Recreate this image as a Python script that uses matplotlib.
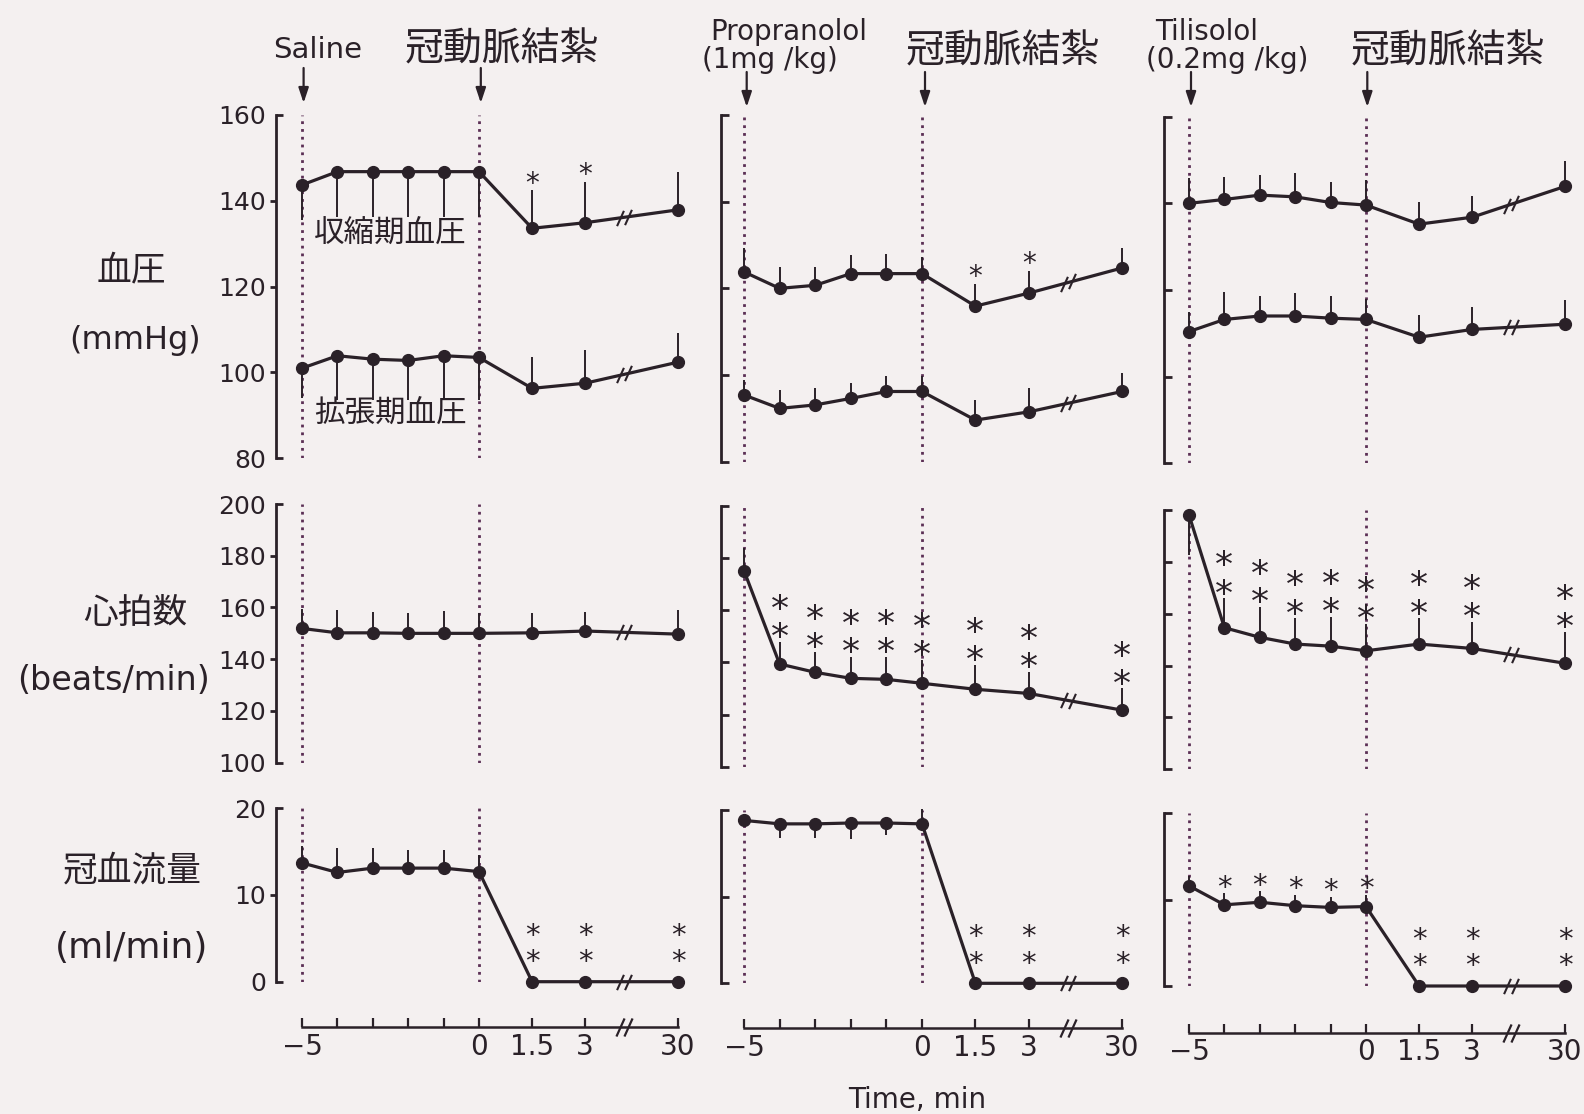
import numpy as np
import matplotlib.pyplot as plt
from matplotlib.path import Path

plt.rcParams['font.family'] = ['DejaVu Sans', 'Noto Sans CJK JP']

W, H = 1584, 1114
INK = '#2a2128'
DOT = '#5b2f55'
BG = '#f4f0f0'
JP = ['Noto Sans CJK JP', 'DejaVu Sans']

# time points (min); 30 min sits after an axis break
times = [-5, -4, -3, -2, -1, 0, 1.5, 3, 30]
tick_text = ['−5', '', '', '', '', '0', '1.5', '3', '30']
POS_30 = 5.62
pos = np.array([t if t < 30 else POS_30 for t in times])

# --- blood pressure (mmHg) ---
sys_saline = [143.7, 146.8, 146.8, 146.8, 146.8, 146.8, 133.6, 134.9, 137.9]
sys_saline_sd = [8.2, 10.5, 10.5, 10.5, 10.5, 10.5, 8.9, 9.6, 8.9]
dia_saline = [101.0, 103.9, 103.1, 102.8, 103.9, 103.5, 96.3, 97.5, 102.4]
dia_saline_sd = [7.0, 10.3, 9.5, 9.2, 10.3, 10.0, 7.4, 7.8, 6.8]
bp_saline_dir = [-1, -1, -1, -1, -1, -1, 1, 1, 1]
sys_saline_sig = ['', '', '', '', '', '', '*', '*', '']

sys_prop = [123.8, 120.0, 120.7, 123.4, 123.4, 123.4, 115.9, 118.9, 124.7]
sys_prop_sd = [5.4, 5.0, 4.2, 4.2, 4.6, 3.8, 5.2, 5.2, 4.5]
dia_prop = [95.4, 92.3, 93.1, 94.6, 96.2, 96.2, 89.6, 91.5, 96.2]
dia_prop_sd = [3.5, 4.2, 3.8, 3.5, 3.5, 3.5, 4.6, 5.4, 4.2]
sys_prop_sig = ['', '', '', '', '', '', '*', '*', '']

sys_tili = [140.0, 140.9, 141.9, 141.5, 140.2, 139.6, 135.2, 136.8, 143.9]
sys_tili_sd = [5.8, 5.2, 4.6, 5.4, 4.8, 5.8, 5.2, 4.8, 5.8]
dia_tili = [110.4, 113.2, 114.0, 114.0, 113.5, 113.2, 109.1, 110.9, 112.1]
dia_tili_sd = [4.6, 6.4, 4.5, 5.2, 5.0, 4.8, 5.2, 5.2, 5.5]

# --- heart rate (beats/min) ---
hr_saline = [151.9, 150.2, 150.2, 150.0, 150.0, 150.0, 150.2, 150.9, 149.7]
hr_saline_sd = [7.7, 8.8, 8.1, 8.0, 8.8, 7.7, 7.7, 7.5, 9.3]
hr_prop = [175.2, 139.4, 136.2, 133.9, 133.5, 132.0, 129.7, 128.1, 121.7]
hr_prop_sd = [8.6, 8.6, 7.9, 8.3, 8.7, 9.0, 9.3, 8.3, 8.3]
hr_prop_sig = ['', '**', '**', '**', '**', '**', '**', '**', '**']
hr_tili = [198.1, 154.6, 150.9, 148.3, 147.5, 145.7, 148.3, 146.6, 140.9]
hr_tili_sd = [15.4, 11.3, 11.8, 9.9, 11.3, 10.5, 9.9, 10.3, 12.2]
hr_tili_dir = [-1, 1, 1, 1, 1, 1, 1, 1, 1]
hr_tili_sig = ['', '**', '**', '**', '**', '**', '**', '**', '**']

# --- coronary blood flow (ml/min) ---
cf_saline = [13.7, 12.6, 13.1, 13.1, 13.1, 12.7, 0, 0, 0]
cf_saline_sd = [2.0, 2.8, 2.3, 2.1, 2.1, 1.9, 0, 0, 0]
cf_prop = [18.8, 18.4, 18.4, 18.5, 18.5, 18.4, 0, 0, 0]
cf_prop_sd = [0, 1.65, 1.65, 1.85, 1.35, 1.7, 0, 0, 0]
cf_prop_dir = [1, -1, -1, -1, -1, 1, 1, 1, 1]
cf_tili = [11.6, 9.4, 9.7, 9.3, 9.1, 9.2, 0, 0, 0]
cf_tili_sd = [1.1, 1.35, 1.27, 1.27, 1.24, 1.35, 0, 0, 0]
cf_sig = ['', '', '', '', '', '', '**', '**', '**']
cf_tili_sig = ['', '*', '*', '*', '*', '*', '**', '**', '**']

UP = [1] * 9
NONE = [''] * 9

# layout in reference pixels
col_x = [dict(spine=276, m5=302, zero=479),
         dict(spine=721, m5=744, zero=922),
         dict(spine=1164, m5=1189, zero=1366)]
bp_y = [(458.3, 115), (461.7, 115), (463.3, 116.7)]
hr_y = [(762.7, 504), (766.7, 506), (769.3, 510)]
cf_y = [(981.7, 808.3), (983.3, 810), (986, 813.3)]
time_y = [1027.3, 1028.3, 1032.7]

SLASH = Path([(-0.45, -1), (0.45, 1)], [Path.MOVETO, Path.LINETO])

fig = plt.figure(figsize=(W / 100, H / 100), dpi=100, facecolor=BG)


def make_axes(col, ybot, ytop, lo, hi, ticks, labelled):
    c = col_x[col]
    per = (c['zero'] - c['m5']) / 5
    right = c['zero'] + POS_30 * per + 14
    ax = fig.add_axes([c['spine'] / W, 1 - ybot / H,
                       (right - c['spine']) / W, (ybot - ytop) / H])
    ax.set_xlim(-5 - (c['m5'] - c['spine']) / per, POS_30 + 14 / per)
    ax.set_ylim(lo, hi)
    ax.patch.set_visible(False)
    for s in ['top', 'right', 'bottom']:
        ax.spines[s].set_visible(False)
    ax.spines['left'].set_bounds(lo, hi)
    ax.spines['left'].set_linewidth(2.0)
    ax.spines['left'].set_color(INK)
    ax.set_xticks([])
    if labelled:
        mid = ticks[1:-1]
        ends = [ticks[0], ticks[-1]]
        ax.set_yticks(mid)
        ax.set_yticklabels([str(t) for t in mid])
        ax.set_yticks(ends, minor=True)
        ax.set_yticklabels([str(t) for t in ends], minor=True)
        ax.tick_params(axis='y', which='major', direction='out', length=4,
                       width=2, pad=3, labelsize=18, colors=INK)
        ax.tick_params(axis='y', which='minor', direction='in', length=5,
                       width=2, pad=7, labelsize=18, colors=INK)
    else:
        ax.set_yticks(ticks)
        ax.set_yticklabels([])
        ax.tick_params(axis='y', direction='in', length=5.5, width=2, colors=INK)
    ax.vlines([-5, 0], lo, hi, colors=DOT, linestyles=(0, (1, 1.8)), lw=2.0, zorder=1)
    return ax


def draw_series(ax, vals, sd, dirs, sig, star_size=20, star_gap=20):
    v = np.array(vals)
    for p, vi, si, di in zip(pos, v, sd, dirs):
        if si > 0:
            ax.vlines(p, vi, vi + di * si, color=INK, lw=1.4, clip_on=False, zorder=3)
    ax.plot(pos, v, '-', color=INK, lw=2.3, clip_on=False, zorder=4)
    ax.plot(pos, v, 'o', ms=8.5, color=INK, clip_on=False, zorder=5)
    for bx in (3.98, 4.22):
        ax.plot([bx], [np.interp(bx, pos, v)], marker=SLASH, ms=11, mew=1.5,
                mfc='none', color=INK, clip_on=False, zorder=6)
    em = star_size * 100 / 72
    spacing = star_gap / (0.76 * em)
    for p, vi, si, di, mark in zip(pos, v, sd, dirs, sig):
        if not mark:
            continue
        if si > 0 and di > 0:
            top, off = vi + si, 14
        else:
            top, off = vi, 28
        # baseline anchor sits on the lowest line of the stack
        ax.annotate('\n'.join('*' * len(mark)), xy=(p, top),
                    xytext=(0, off - 0.56 * em),
                    textcoords='offset pixels', ha='center', va='baseline',
                    linespacing=spacing, fontsize=star_size, color=INK,
                    annotation_clip=False)


def time_axis(col):
    c = col_x[col]
    per = (c['zero'] - c['m5']) / 5
    right = c['zero'] + POS_30 * per + 14
    tax = fig.add_axes([c['spine'] / W, 1 - time_y[col] / H,
                        (right - c['spine']) / W, 0.001])
    tax.set_xlim(-5 - (c['m5'] - c['spine']) / per, POS_30 + 14 / per)
    tax.set_ylim(0, 1)
    tax.patch.set_visible(False)
    for s in ['top', 'right', 'left']:
        tax.spines[s].set_visible(False)
    tax.spines['bottom'].set_bounds(-5, POS_30)
    tax.spines['bottom'].set_linewidth(1.8)
    tax.spines['bottom'].set_color(INK)
    tax.set_yticks([])
    tax.set_xticks(pos)
    tax.set_xticklabels(tick_text)
    tax.tick_params(axis='x', direction='in', length=6.5, width=1.6, pad=4,
                    labelsize=20, colors=INK)
    for bx in (3.98, 4.2):
        tax.plot([bx], [0], marker=SLASH, ms=13, mew=1.6, mfc='none',
                 color=INK, clip_on=False, zorder=6)


bp_ticks = [80, 100, 120, 140, 160]
hr_ticks = [100, 120, 140, 160, 180, 200]
cf_ticks = [0, 10, 20]

# column 1: saline
ax = make_axes(0, *bp_y[0], 80, 160, bp_ticks, True)
draw_series(ax, sys_saline, sys_saline_sd, bp_saline_dir, sys_saline_sig)
draw_series(ax, dia_saline, dia_saline_sd, bp_saline_dir, NONE)
ax.text(-2.5, 132.5, '収縮期血圧', family=JP, fontsize=22, ha='center', va='center', color=INK)
ax.text(-2.5, 90.5, '拡張期血圧', family=JP, fontsize=22, ha='center', va='center', color=INK)
ax = make_axes(0, *hr_y[0], 100, 200, hr_ticks, True)
draw_series(ax, hr_saline, hr_saline_sd, UP, NONE)
ax = make_axes(0, *cf_y[0], 0, 20, cf_ticks, True)
draw_series(ax, cf_saline, cf_saline_sd, UP, cf_sig, 21, 20)
time_axis(0)

# column 2: propranolol
ax = make_axes(1, *bp_y[1], 80, 160, bp_ticks, False)
draw_series(ax, sys_prop, sys_prop_sd, UP, sys_prop_sig)
draw_series(ax, dia_prop, dia_prop_sd, UP, NONE)
ax = make_axes(1, *hr_y[1], 100, 200, hr_ticks, False)
draw_series(ax, hr_prop, hr_prop_sd, UP, hr_prop_sig, 26, 21.5)
ax = make_axes(1, *cf_y[1], 0, 20, cf_ticks, False)
draw_series(ax, cf_prop, cf_prop_sd, cf_prop_dir, cf_sig, 21, 21)
time_axis(1)

# column 3: tilisolol
ax = make_axes(2, *bp_y[2], 80, 160, bp_ticks, False)
draw_series(ax, sys_tili, sys_tili_sd, UP, NONE)
draw_series(ax, dia_tili, dia_tili_sd, UP, NONE)
ax = make_axes(2, *hr_y[2], 100, 200, hr_ticks, False)
draw_series(ax, hr_tili, hr_tili_sd, hr_tili_dir, hr_tili_sig, 26, 21.5)
ax = make_axes(2, *cf_y[2], 0, 20, cf_ticks, False)
draw_series(ax, cf_tili, cf_tili_sd, UP, cf_tili_sig, 21, 20)
time_axis(2)


def ftext(x, y, s, **kw):
    kw.setdefault('color', INK)
    fig.text(x / W, 1 - y / H, s, **kw)


# row labels
ftext(131, 271, '血圧', family=JP, fontsize=25, ha='center', va='center')
ftext(135, 340, '(mmHg)', fontsize=23, ha='center', va='center')
ftext(135, 613, '心拍数', family=JP, fontsize=25, ha='center', va='center')
ftext(113, 681, '(beats/min)', fontsize=24, ha='center', va='center')
ftext(132, 871, '冠血流量', family=JP, fontsize=25, ha='center', va='center')
ftext(132, 948, '(ml/min)', fontsize=26, ha='center', va='center')

# treatment labels and arrows
ftext(273, 50, 'Saline', fontsize=21, ha='left', va='center')
ftext(710, 32, 'Propranolol', fontsize=20, ha='left', va='center')
ftext(702, 60, '(1mg /kg)', fontsize=20, ha='left', va='center')
ftext(1155, 32, 'Tilisolol', fontsize=20, ha='left', va='center')
ftext(1146, 60, '(0.2mg /kg)', fontsize=20, ha='left', va='center')
for cx, cy in [(502, 50), (1003, 51.7), (1447.5, 51.7)]:
    ftext(cx, cy, '冠動脈結紮', family=JP, fontsize=28, ha='center', va='center')

arrows = [(303.6, 68, 103), (480.8, 68, 103), (746.7, 72, 107),
          (925, 72, 107), (1191, 72, 107), (1367.3, 72, 107)]
for x, y0, y1 in arrows:
    fig.axes[0].annotate('', xy=(x, H - y1), xytext=(x, H - y0),
                         xycoords='figure pixels', textcoords='figure pixels',
                         arrowprops=dict(arrowstyle='-|>,head_length=0.9,head_width=0.3',
                                         color=INK, lw=1.6, shrinkA=0, shrinkB=0))

ftext(916.7, 1100, 'Time, min', fontsize=20, ha='center', va='center')

fig.savefig('out.png', dpi=100, facecolor=BG)
